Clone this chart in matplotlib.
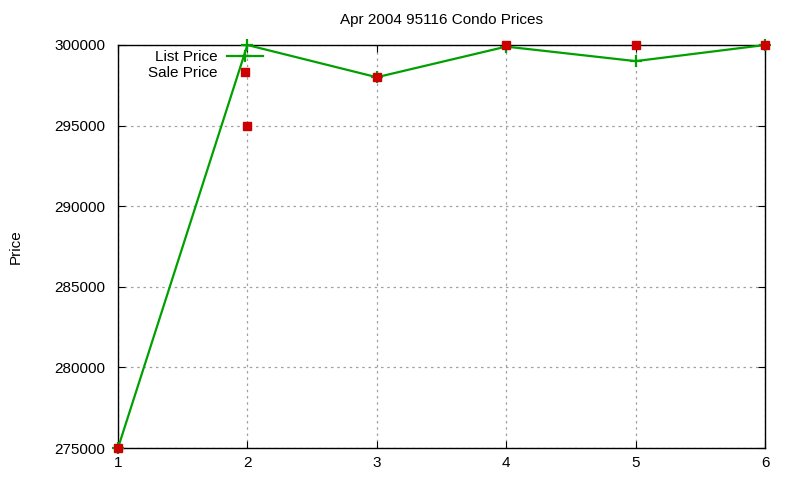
import matplotlib
matplotlib.use("Agg")
from matplotlib import pyplot as plt
from matplotlib.ticker import MultipleLocator, FuncFormatter

plt.rcParams['font.family'] = ['Liberation Sans', 'DejaVu Sans']

# Chart data
listing = [1, 2, 3, 4, 5, 6]
list_price = [275000, 300000, 298000, 299900, 299000, 300000]
sale_price = [275000, 295000, 298000, 300000, 300000, 300000]

fig = plt.figure(figsize=(8, 4.8), dpi=100)
ax = fig.add_axes([118 / 800, 1 - 448 / 480, (765 - 118) / 800, (448 - 45) / 480])

ax.plot(listing, list_price, color='#00a000', lw=1.6, marker='+', ms=9, mew=1.6,
        label='List Price', clip_on=False, zorder=3)
ax.plot(listing, sale_price, ls='none', color='#cc0000', marker='s', ms=6,
        label='Sale Price', clip_on=False, zorder=4)

ax.set_xlim(1, 6)
ax.set_ylim(275000, 300000)
ax.xaxis.set_major_locator(MultipleLocator(1))
ax.yaxis.set_major_locator(MultipleLocator(5000))
ax.yaxis.set_major_formatter(FuncFormatter(lambda v, p: '%d' % v))
ax.tick_params(direction='in', length=5, top=True, right=True, labelsize=11, colors='black')
ax.tick_params(axis='x', pad=6)
ax.tick_params(axis='y', pad=9)
ax.grid(True, color='#a0a0a0', ls=(0, (2, 3)), lw=0.9)
for s in ax.spines.values():
    s.set_linewidth(1.0)

ax.set_title('Apr 2004 95116 Condo Prices', fontsize=11, pad=15)
ax.set_ylabel('Price', fontsize=11, labelpad=23)

ax.legend(loc='upper left', bbox_to_anchor=(0.025, 1.022), frameon=False, markerfirst=False,
          fontsize=11, handlelength=2.4, labelspacing=0.15, handletextpad=0.6)

fig.savefig('out.png', dpi=100)
